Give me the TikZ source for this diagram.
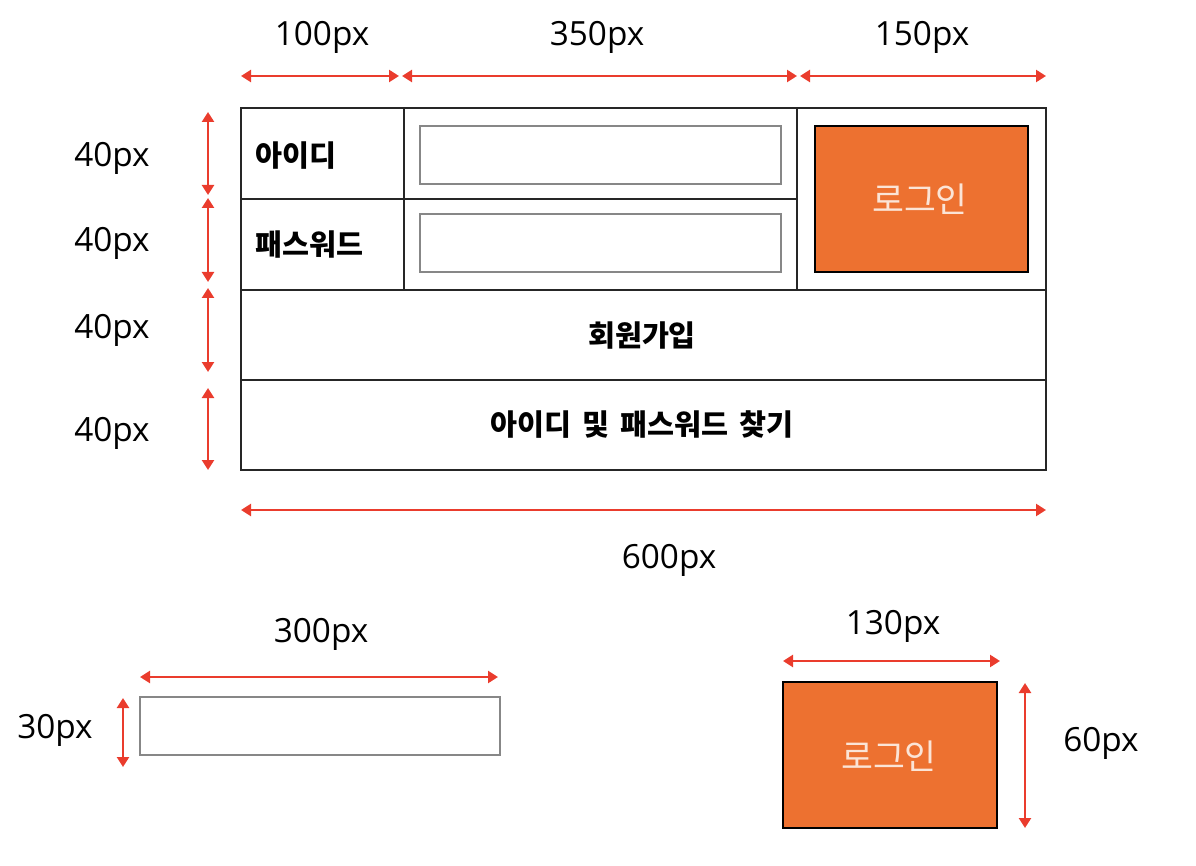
\documentclass[tikz,border=0pt]{standalone}
\usepackage{fontspec}
\setmainfont{Open Sans}
\newfontfamily\kr{Noto Sans CJK KR}
\usetikzlibrary{arrows.meta,fit}
\definecolor{dimred}{RGB}{234,60,45}
\definecolor{btnorange}{RGB}{237,113,48}
\definecolor{btntext}{RGB}{251,228,214}
\definecolor{boxgray}{RGB}{135,135,135}
\newcommand\wsp{\hspace{0.38em}}
\begin{document}
\begin{tikzpicture}[x=0.75pt,y=-0.75pt,
  cell/.style={draw=black!85, line width=1.1pt, inner sep=0pt},
  field/.style={draw=boxgray, line width=1.6pt, inner sep=0pt, fill=white},
  button/.style={draw=black, line width=1.5pt, fill=btnorange, inner sep=0pt},
  btnlabel/.style={text=btntext, inner sep=0pt, font=\kr\fontsize{26}{30}\selectfont},
  dimarrow/.style={draw=dimred, line width=1.8pt, {Triangle[length=7.5pt,width=9pt]}-{Triangle[length=7.5pt,width=9pt]}},
  dimlabel/.style={font=\fontsize{25}{30}\selectfont, inner sep=0pt},
  celltext/.style={font=\kr\bfseries\fontsize{22}{26}\selectfont, inner sep=0pt}]
\useasboundingbox (0,0) rectangle (1196,866);

% table cells
\node[cell, fit={(241,108) (404,199)}] (c11) {};
\node[cell, fit={(404,108) (797,199)}] (c12) {};
\node[cell, fit={(241,199) (404,290)}] (c21) {};
\node[cell, fit={(404,199) (797,290)}] (c22) {};
\node[cell, fit={(797,108) (1046,290)}] (c3) {};
\node[cell, fit={(241,290) (1046,380)}] (r3) {};
\node[cell, fit={(241,380) (1046,470)}] (r4) {};

% fields and buttons
\node[field, fit={(420,126) (781,184)}] (f1) {};
\node[field, fit={(420,214) (781,272)}] (f2) {};
\node[button, fit={(815,126) (1028,272)}] (b1) {};
\node[btnlabel] (b1t) at (920,199) {로그인};

% cell texts
\node[celltext, anchor=west] (idt) at (255,156) {아이디};
\node[celltext, anchor=west] (pwt) at (255,245) {패스워드};
\node[celltext] (joint) at (642,335) {회원가입};
\node[celltext] (findt) at (642,425) {아이디\wsp 및\wsp 패스워드\wsp 찾기};

% top dimensions
\coordinate (t0) at (241,76); \coordinate (t1) at (399,76);
\coordinate (t2) at (402,76); \coordinate (t3) at (797,76);
\coordinate (t4) at (800,76); \coordinate (t5) at (1046,76);
\draw[dimarrow] (t0) -- (t1);
\draw[dimarrow] (t2) -- (t3);
\draw[dimarrow] (t4) -- (t5);
\node[dimlabel] (l100) at (322,37) {100px};
\node[dimlabel] (l350) at (597,37) {350px};
\node[dimlabel] (l150) at (922,37) {150px};

% left dimensions
\coordinate (v0) at (208,112); \coordinate (v1) at (208,195);
\coordinate (v2) at (208,198); \coordinate (v3) at (208,282);
\coordinate (v4) at (208,288); \coordinate (v5) at (208,372);
\coordinate (v6) at (208,388); \coordinate (v7) at (208,470);
\draw[dimarrow] (v0) -- (v1);
\draw[dimarrow] (v2) -- (v3);
\draw[dimarrow] (v4) -- (v5);
\draw[dimarrow] (v6) -- (v7);
\node[dimlabel] (h1) at (112,158) {40px};
\node[dimlabel] (h2) at (112,243) {40px};
\node[dimlabel] (h3) at (112,330) {40px};
\node[dimlabel] (h4) at (112,433) {40px};

% bottom dimension
\coordinate (w0) at (241,510); \coordinate (w1) at (1046,510);
\draw[dimarrow] (w0) -- (w1);
\node[dimlabel] (l600) at (669,560) {600px};

% small field
\node[field, fit={(140,697) (500,755)}] (sf) {};
\coordinate (s0) at (140,677); \coordinate (s1) at (498,677);
\draw[dimarrow] (s0) -- (s1);
\node[dimlabel] (l300) at (321,634) {300px};
\coordinate (s2) at (123,698); \coordinate (s3) at (123,767);
\draw[dimarrow] (s2) -- (s3);
\node[dimlabel] (l30) at (55,730) {30px};

% small button
\node[button, fit={(783,682) (997,828)}] (sb) {};
\node[btnlabel] (sbt) at (889,756) {로그인};
\coordinate (p0) at (783,661); \coordinate (p1) at (1000,661);
\draw[dimarrow] (p0) -- (p1);
\node[dimlabel] (l130) at (893,626) {130px};
\coordinate (p2) at (1025,683); \coordinate (p3) at (1025,828);
\draw[dimarrow] (p2) -- (p3);
\node[dimlabel] (l60) at (1101,743) {60px};
\end{tikzpicture}
\end{document}
